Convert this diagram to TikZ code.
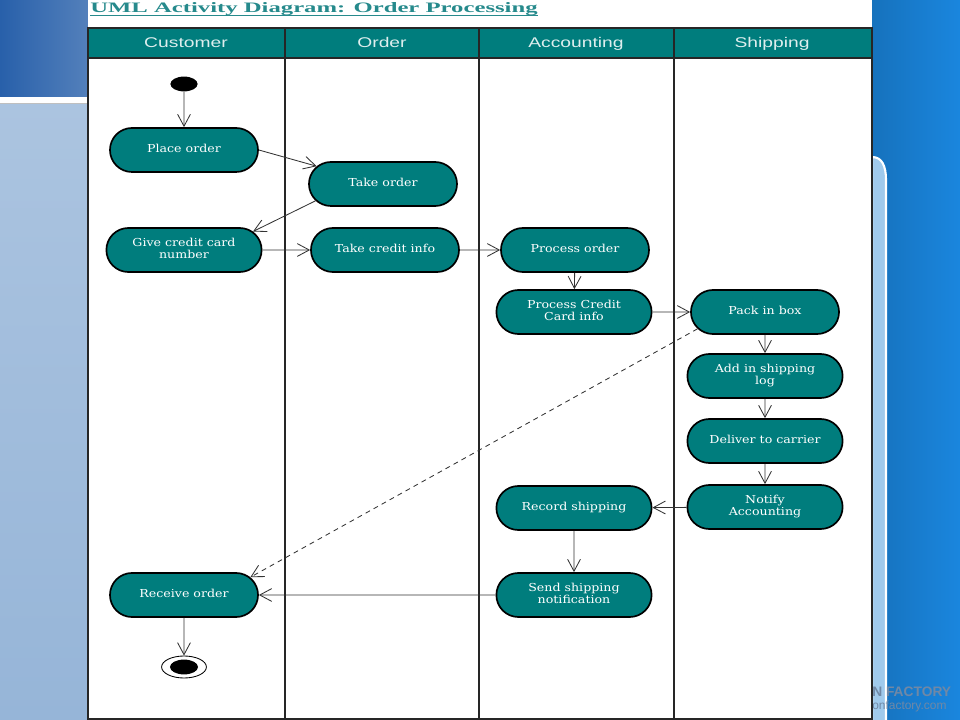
\documentclass[tikz,border=0pt]{standalone}
\usepackage{fontspec}
\setmainfont{Liberation Serif}
\newfontfamily\lanefont{Liberation Sans}
\newfontfamily\actfont{DejaVu Serif}
\usepackage{graphicx}
\usetikzlibrary{shapes.misc, shapes.geometric, arrows.meta, positioning}

\definecolor{laneteal}{RGB}{0,125,125}
\definecolor{titleteal}{RGB}{38,138,140}
\definecolor{slidedark}{RGB}{40,96,170}
\definecolor{slidelight}{RGB}{150,181,216}
\definecolor{slidebright}{RGB}{26,134,222}
\definecolor{panelblue}{RGB}{160,202,236}
\definecolor{markgray}{RGB}{112,136,166}

% stretched label, as in the picture
\newcommand{\actlabel}[1]{\scalebox{1.15}[1]{\begin{tabular}{@{}c@{}}#1\end{tabular}}}

\begin{document}
\begin{tikzpicture}[x=0.025cm, y=-0.025cm,
    activity/.style={rounded rectangle,
        draw=black,
        line width=1.2pt,
        fill=laneteal,
        text=white,
        minimum width=3.7cm,
        minimum height=1.1cm,
        inner sep=0pt,
        font=\actfont\fontsize{7.8}{8.6}\selectfont},
    wide activity/.style={activity, minimum width=3.88cm},
    lane header/.style={anchor=base,
        text={rgb,255:red,222;green,238;blue,238},
        font=\lanefont\fontsize{10}{12}\selectfont},
    flow/.style={draw=black!80,
        line width=0.6pt,
        -{Straight Barb[length=0.3cm, width=0.32cm]}}]

        \useasboundingbox (0,0) rectangle (960,720);

        % Slide background
        \shade[left color=slidedark, right color=slidedark!80!white] (0,0) rectangle (88,97);
        \fill[white] (0,97) rectangle (88,103);
        \fill[black!25] (0,103) rectangle (88,105);
        \shade[top color=slidelight!80!white, bottom color=slidelight] (0,105) rectangle (88,720);
        \shade[left color=slidebright!85!black, right color=slidebright] (872,0) rectangle (960,720);
        \draw[white, line width=1.5pt, fill=panelblue]
            (872,157) .. controls (882,157) and (886,166) .. (886,180) -- (886,722) -- (872,722) -- cycle;
        \node[anchor=west, inner sep=0pt, text=markgray,
            font=\lanefont\bfseries\fontsize{9.8}{12}\selectfont]
            (mark_top) at (872,692) {N FACTORY};
        \node[anchor=west, inner sep=0pt, text=markgray,
            font=\lanefont\fontsize{8.5}{10}\selectfont]
            (mark_url) at (872,706) {onfactory.com};
        \fill[white] (88,0) rectangle (872,720);

        % Title
        \node[anchor=base west, inner sep=0pt, text=titleteal] (title) at (90,13)
            {\resizebox{11.18cm}{0.25cm}{\bfseries UML Activity Diagram: Order Processing}};
        \draw[titleteal, line width=0.8pt]
            ([yshift=-0.065cm]title.base west) -- ([yshift=-0.065cm]title.base east);

        % Add the swimlanes
        \fill[laneteal] (88,28) rectangle (872,58);
        \draw[black!85, line width=1pt] (88,58) -- (872,58);
        \foreach \x in {285,479,674}
            \draw[black!85, line width=1pt] (\x,28) -- (\x,720);
        \draw[black!85, line width=1.6pt] (88,28) rectangle (872,719);
        \foreach \x/\name in {186/Customer, 382/Order, 576/Accounting, 772/Shipping}
            \node[lane header] (lane_\name) at (\x,48) {\scalebox{1.37}[1]{\name}};

        % Add the states
        \node[ellipse, fill=black, minimum width=0.68cm, minimum height=0.37cm,
            inner sep=0pt] (start) at (184,84) {};
        \node[activity] (place) at (184,150) {\actlabel{Place order}};
        \node[activity] (take_order) at (383,184) {\actlabel{Take order}};
        \node[wide activity] (give_cc) at (184,250) {\actlabel{Give credit card\\number}};
        \node[activity] (take_cc) at (385,250) {\actlabel{Take credit info}};
        \node[activity] (proc_order) at (575,250) {\actlabel{Process order}};
        \node[wide activity] (proc_cc) at (574,312) {\actlabel{Process Credit\\Card info}};
        \node[activity] (pack) at (765,312) {\actlabel{Pack in box}};
        \node[wide activity] (add_log) at (765,376) {\actlabel{Add in shipping\\log}};
        \node[wide activity] (deliver) at (765,441) {\actlabel{Deliver to carrier}};
        \node[wide activity] (notify) at (765,507) {\actlabel{Notify\\Accounting}};
        \node[wide activity] (record) at (574,508) {\actlabel{Record shipping}};
        \node[wide activity] (send) at (574,595) {\actlabel{Send shipping\\notification}};
        \node[activity] (receive) at (184,595) {\actlabel{Receive order}};
        \node[ellipse, draw=black, line width=0.6pt, fill=white,
            minimum width=1.12cm, minimum height=0.55cm] (finish) at (184,667) {};
        \node[ellipse, fill=black, minimum width=0.7cm, minimum height=0.37cm,
            inner sep=0pt] (finish_dot) at (finish) {};

        % Connect the states with arrows
        \path[every edge/.append style={flow}]
            (start)          edge (place)
            (place.east)     edge (take_order.165)
            (take_order.194) edge (give_cc.15)
            (give_cc)        edge (take_cc)
            (take_cc)        edge (proc_order)
            (proc_order)     edge (proc_cc)
            (proc_cc)        edge (pack)
            (pack)           edge (add_log)
            (add_log)        edge (deliver)
            (deliver)        edge (notify)
            (notify)         edge (record)
            (record)         edge (send)
            (send)           edge (receive)
            (receive)        edge (finish)
            (pack.194)       edge[dash pattern=on 3.5pt off 3pt] (receive.15);
\end{tikzpicture}
\end{document}
